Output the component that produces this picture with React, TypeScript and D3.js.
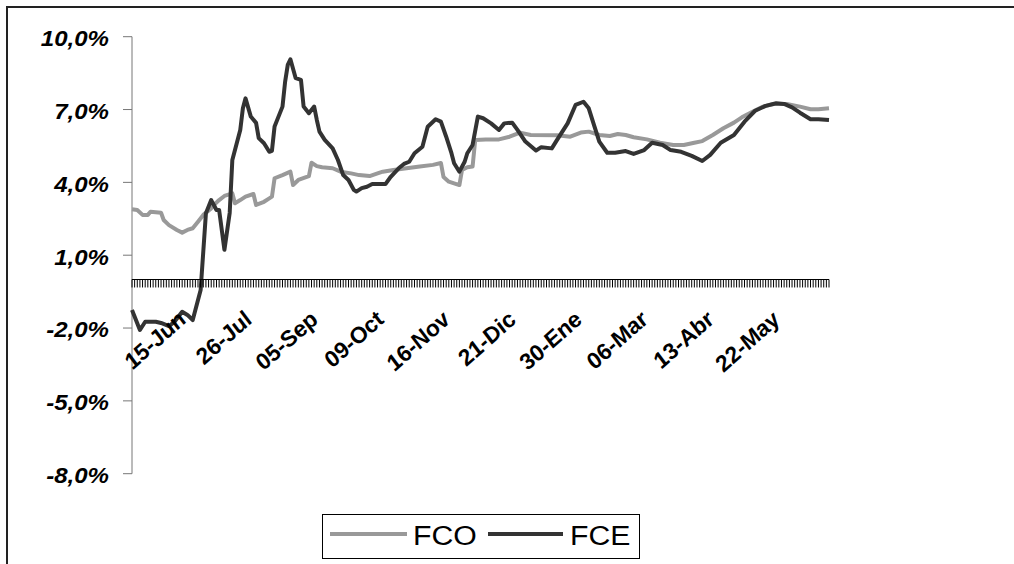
import React, { useEffect } from "react";
import * as d3 from "d3";

// Trading days on the category axis; a date label every LABEL_STEP days.
const DAY_COUNT = 265;
const LABEL_STEP = 25;
const xLabels = [
  "15-Jun", "26-Jul", "05-Sep", "09-Oct", "16-Nov",
  "21-Dic", "30-Ene", "06-Mar", "13-Abr", "22-May",
];
const yTicks = [10, 7, 4, 1, -2, -5, -8];

// [day index, percent]
const fco: [number, number][] = [
  [0, 2.89], [2, 2.86], [4, 2.66], [6, 2.66], [7, 2.79], [11, 2.75], [12, 2.45],
  [14, 2.24], [17, 2.04], [19, 1.93], [21, 2.04], [23, 2.11], [25, 2.38], [27, 2.66],
  [30, 2.93], [31, 3.07], [33, 3.27], [35, 3.44], [38, 3.55], [39, 3.14], [41, 3.27],
  [43, 3.41], [46, 3.52], [47, 3.07], [50, 3.2], [52, 3.34], [53, 3.41], [54, 4.17],
  [57, 4.3], [60, 4.44], [61, 3.89], [63, 4.1], [67, 4.26], [68, 4.81], [70, 4.67],
  [72, 4.62], [76, 4.58], [79, 4.44], [83, 4.37], [86, 4.3], [90, 4.26], [93, 4.37],
  [95, 4.44], [99, 4.51], [104, 4.58], [109, 4.65], [114, 4.72], [117, 4.8], [118, 4.22],
  [120, 4.03], [124, 3.89], [125, 4.51], [127, 4.62], [129, 4.65], [130, 5.75], [134, 5.77],
  [139, 5.77], [143, 5.88], [147, 6.05], [151, 5.95], [161, 5.94], [166, 5.88], [170, 6.05],
  [173, 6.09], [177, 5.95], [181, 5.91], [184, 5.99], [187, 5.95], [190, 5.86], [195, 5.77],
  [200, 5.63], [205, 5.54], [209, 5.54], [213, 5.63], [216, 5.7], [220, 5.95], [224, 6.23],
  [228, 6.46], [231, 6.68], [235, 6.91], [239, 7.12], [243, 7.23], [248, 7.23], [253, 7.12],
  [257, 7.01], [260, 7.01], [264, 7.05],
];

const fce: [number, number][] = [
  [0, -1.26], [3, -2.08], [5, -1.74], [9, -1.74], [11, -1.79], [14, -1.92], [16, -1.75],
  [19, -1.33], [21, -1.46], [23, -1.67], [26, -0.43], [28, 2.73], [30, 3.27], [32, 2.86],
  [33, 2.86], [35, 1.22], [37, 2.74], [38, 4.92], [41, 6.16], [42, 7.05], [43, 7.46],
  [45, 6.71], [47, 6.45], [48, 5.82], [50, 5.61], [52, 5.26], [53, 5.3], [54, 6.3],
  [57, 7.12], [58, 8.15], [59, 8.84], [60, 9.07], [62, 8.29], [64, 8.22], [65, 7.12],
  [67, 6.85], [69, 7.12], [70, 6.57], [71, 6.09], [73, 5.75], [76, 5.4], [78, 4.92],
  [80, 4.3], [82, 4.1], [84, 3.69], [85, 3.62], [87, 3.76], [89, 3.82], [91, 3.93],
  [96, 3.93], [98, 4.23], [101, 4.58], [103, 4.76], [105, 4.85], [107, 5.2], [110, 5.47],
  [112, 6.29], [115, 6.6], [117, 6.5], [119, 5.88], [121, 5.2], [122, 4.79], [124, 4.44],
  [126, 4.85], [127, 5.2], [129, 5.54], [131, 6.71], [133, 6.64], [136, 6.43], [139, 6.16],
  [141, 6.43], [144, 6.46], [146, 6.16], [149, 5.68], [153, 5.31], [155, 5.45], [159, 5.4],
  [161, 5.75], [165, 6.43], [168, 7.19], [171, 7.32], [173, 7.05], [175, 6.36], [177, 5.68],
  [180, 5.22], [183, 5.22], [187, 5.29], [190, 5.17], [194, 5.33], [197, 5.63], [201, 5.54],
  [204, 5.33], [208, 5.26], [212, 5.09], [216, 4.88], [219, 5.13], [223, 5.63], [228, 5.95],
  [232, 6.5], [236, 6.95], [240, 7.15], [244, 7.26], [247, 7.23], [250, 7.09], [253, 6.87],
  [257, 6.6], [260, 6.6], [264, 6.57],
];

const FCO_COLOR = "#999999";
const FCE_COLOR = "#333333";
const FONT = "'Liberation Sans', Arial, sans-serif";
// glyphs in this chart are set slightly wide
const STRETCH = 1.12;

export default function App() {
  const W = 1014;
  const H = 564;

  useEffect(() => {
    document.documentElement.style.overflow = "hidden";
    document.body.style.margin = "0";
  }, []);

  const x = d3.scaleLinear().domain([0, DAY_COUNT - 1]).range([132, 829]);
  const y = d3.scaleLinear().domain([-8, 10]).range([473.7, 36.7]);
  const line = d3
    .line<[number, number]>()
    .x((d) => x(d[0]))
    .y((d) => y(d[1]));

  const fmt = (v: number) => v.toFixed(1).replace(".", ",") + "%";
  const y0 = y(0);

  return (
    <svg
      width={W}
      height={H}
      style={{ position: "absolute", left: 0, top: 0, background: "#fff", display: "block" }}
      fontFamily={FONT}
    >
      {/* chart frame (top and left edges fall inside the view) */}
      <line x1={7} x2={W} y1={7} y2={7} stroke="#222" strokeWidth={2} />
      <line x1={7} x2={7} y1={6} y2={H} stroke="#222" strokeWidth={2} />

      {/* value axis */}
      <line x1={132} x2={132} y1={y(10)} y2={y(-8)} stroke="#777" strokeWidth={1} />
      {yTicks.map((t) => (
        <g key={t}>
          <line x1={123} x2={132} y1={y(t)} y2={y(t)} stroke="#777" strokeWidth={1} />
          <text
            transform={`translate(109,${y(t) + 9.3}) scale(${STRETCH},1)`}
            textAnchor="end"
            fontSize={21.5}
            fontWeight="bold"
            fontStyle="italic"
            fill="#000"
          >
            {fmt(t)}
          </text>
        </g>
      ))}

      {/* series */}
      <path d={line(fco) ?? ""} fill="none" stroke={FCO_COLOR} strokeWidth={4} strokeLinejoin="round" />
      <path d={line(fce) ?? ""} fill="none" stroke={FCE_COLOR} strokeWidth={4} strokeLinejoin="round" />

      {/* category axis at zero */}
      <line x1={x(0)} x2={x(DAY_COUNT - 1)} y1={y0} y2={y0} stroke="#000" strokeWidth={1.2} />
      {d3.range(DAY_COUNT).map((i) => (
        <line key={i} x1={x(i)} x2={x(i)} y1={y0} y2={y0 + 8} stroke="#000" strokeWidth={1} />
      ))}
      {xLabels.map((lab, k) => (
        <text
          key={lab}
          transform={`translate(${x(k * LABEL_STEP) + 56},${321}) scale(${STRETCH},1) rotate(-45)`}
          textAnchor="end"
          fontSize={21.5}
          fontWeight="bold"
          fontStyle="italic"
          fill="#000"
        >
          {lab}
        </text>
      ))}

      {/* legend */}
      <rect x={322.5} y={514.5} width={317} height={44} fill="#fff" stroke="#000" strokeWidth={1} />
      <line x1={330} x2={407} y1={534} y2={534} stroke={FCO_COLOR} strokeWidth={4} />
      <text transform={`translate(413,545) scale(${STRETCH},1)`} fontSize={27} fill="#000">FCO</text>
      <line x1={488} x2={563} y1={534} y2={534} stroke={FCE_COLOR} strokeWidth={4} />
      <text transform={`translate(570,545) scale(${STRETCH},1)`} fontSize={27} fill="#000">FCE</text>
    </svg>
  );
}
